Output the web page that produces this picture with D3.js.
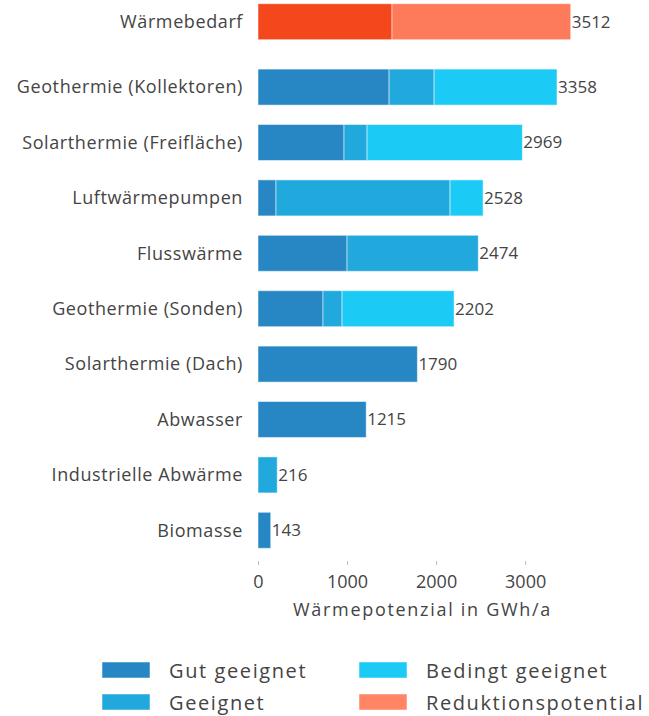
<!DOCTYPE html>
<html>
<head>
<meta charset="utf-8">
<script src="https://cdn.jsdelivr.net/npm/d3@7"></script>
<style>
  body { margin: 0; background: #fff; }
  text { font-family: "Open Sans", Lato, sans-serif; fill: #444; }
</style>
</head>
<body>
<div id="chart"></div>
<script>
// categories, top to bottom
var categories = ["Wärmebedarf", "Geothermie (Kollektoren)", "Solarthermie (Freifläche)",
  "Luftwärmepumpen", "Flusswärme", "Geothermie (Sonden)", "Solarthermie (Dach)",
  "Abwasser", "Industrielle Abwärme", "Biomasse"];

// series values (GWh/a)
var bedarf = [1505, 0, 0, 0, 0, 0, 0, 0, 0, 0];
var gut = [0, 1472, 966, 202, 1000, 730, 1790, 1215, 0, 143];
var geeignet = [0, 506, 259, 1955, 1474, 214, 0, 0, 216, 0];
var bedingt = [0, 1380, 1744, 371, 0, 1258, 0, 0, 0, 0];
var reduktion = [2007, 0, 0, 0, 0, 0, 0, 0, 0, 0];
var totals = [3512, 3358, 2969, 2528, 2474, 2202, 1790, 1215, 216, 143];

var xTicks = [0, 1000, 2000, 3000];

var series = [
  { key: "Wärmebedarf", values: bedarf, color: "#f4471c", legend: false },
  { key: "Gut geeignet", values: gut, color: "#2787c4", legend: true },
  { key: "Geeignet", values: geeignet, color: "#21a9de", legend: true },
  { key: "Bedingt geeignet", values: bedingt, color: "#1bcaf5", legend: true },
  { key: "Reduktionspotential", values: reduktion, color: "#fd7a5a", legend: true }
];

var width = 649, height = 716;
var margin = { left: 258, top: 7 };
var firstGap = 10;

var svg = d3.select("#chart").append("svg")
  .attr("width", width)
  .attr("height", height);

var x = d3.scaleLinear()
  .domain([0, 3650])
  .range([margin.left, margin.left + 325]);

var y = d3.scaleBand()
  .domain(categories)
  .range([margin.top - 13, margin.top - 13 + 55.4 * categories.length])
  .paddingInner(0.35)
  .paddingOuter(0.175);

function rowY(c, i) {
  return y(c) + (i > 0 ? firstGap : 0);
}

// stacked rows
var rows = categories.map(function(c, i) {
  var x0 = 0;
  return series.map(function(s) {
    var seg = { cat: c, i: i, x0: x0, x1: x0 + s.values[i], color: s.color };
    x0 = seg.x1;
    return seg;
  }).filter(function(seg) { return seg.x1 > seg.x0; });
});

var g = svg.append("g");

g.selectAll(".row")
  .data(rows)
  .enter().append("g")
  .attr("class", "row")
  .selectAll("rect")
  .data(function(d) { return d; })
  .enter().append("rect")
  .attr("x", function(d) { return x(d.x0); })
  .attr("width", function(d) { return x(d.x1) - x(d.x0); })
  .attr("y", function(d) { return rowY(d.cat, d.i); })
  .attr("height", y.bandwidth())
  .style("fill", function(d) { return d.color; })
  .style("stroke", "rgba(255,255,255,0.5)")
  .style("stroke-width", 1);

// category labels
g.selectAll(".cat")
  .data(categories)
  .enter().append("text")
  .attr("class", "cat")
  .attr("x", margin.left - 15)
  .attr("y", function(d, i) { return rowY(d, i) + y.bandwidth() / 2; })
  .attr("dy", "0.35em")
  .attr("text-anchor", "end")
  .style("font-size", "18px")
  .style("letter-spacing", "0.6px")
  .text(function(d) { return d; });

// value labels
g.selectAll(".val")
  .data(totals)
  .enter().append("text")
  .attr("class", "val")
  .attr("x", function(d) { return x(d) + 1; })
  .attr("y", function(d, i) { return rowY(categories[i], i) + y.bandwidth() / 2; })
  .attr("dy", "0.35em")
  .style("font-size", "17px")
  .text(function(d) { return d; });

// x axis
var axis = svg.append("g")
  .attr("transform", "translate(0,561)")
  .call(d3.axisBottom(x).tickValues(xTicks).tickSize(4).tickPadding(10).tickFormat(d3.format("d")));
axis.select(".domain").remove();
axis.selectAll(".tick line").style("stroke", "#bbb");
axis.selectAll(".tick text")
  .style("font-size", "18px")
  .style("font-family", "'Open Sans', Lato, sans-serif")
  .style("fill", "#444");

svg.append("text")
  .attr("x", (x.range()[0] + x.range()[1]) / 2 + 2)
  .attr("y", 616)
  .attr("text-anchor", "middle")
  .style("font-size", "18px")
  .style("letter-spacing", "1.7px")
  .text("Wärmepotenzial in GWh/a");

// legend
var legendItems = series.filter(function(s) { return s.legend; });
var legend = svg.selectAll(".legend")
  .data(legendItems)
  .enter().append("g")
  .attr("class", "legend")
  .attr("transform", function(d, i) {
    return "translate(" + (102 + Math.floor(i / 2) * 257) + "," + (662 + (i % 2) * 32) + ")";
  });

legend.append("rect")
  .attr("width", 48)
  .attr("height", 16)
  .style("fill", function(d) { return d.key === "Reduktionspotential" ? "#ff8566" : d.color; })
  .style("stroke", "rgba(255,255,255,0.5)");

legend.append("text")
  .attr("x", 67)
  .attr("y", 9)
  .attr("dy", "0.35em")
  .style("font-size", "20px")
  .style("letter-spacing", "1.6px")
  .text(function(d) { return d.key; });
</script>
</body>
</html>
